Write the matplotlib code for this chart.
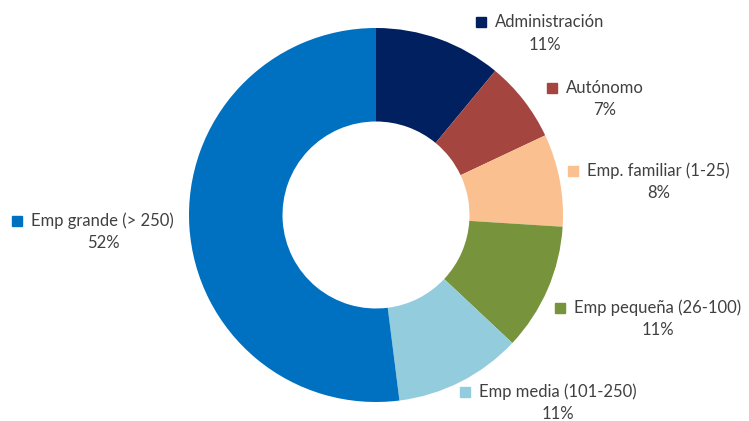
import matplotlib
matplotlib.use("Agg")
import matplotlib.pyplot as plt

categories = ["Administración", "Autónomo", "Emp. familiar (1-25)",
              "Emp pequeña (26-100)", "Emp media (101-250)", "Emp grande (> 250)"]
values = [11, 7, 8, 11, 11, 52]
colors = ["#002060", "#A5453F", "#FAC090", "#77933C", "#93CDDD", "#0070C0"]

# label layout (pixel positions of the legend square and the percent text)
W, H = 749, 421
CX, CY, R = 376, 215, 187
sq_pos = [(481, 22), (552, 88), (573, 171), (560, 308), (465, 392), (17, 221)]
pct_pos = [(545, 45), (605, 110), (659, 193), (658, 330), (558, 414), (103, 243)]

def px2d(px, py):
    return (px - CX) / R, (CY - py) / R

fig = plt.figure(figsize=(W / 100, H / 100), dpi=100)
ax = fig.add_axes([0, 0, 1, 1])
ax.pie(values, colors=colors, startangle=90, counterclock=False, radius=1,
       wedgeprops=dict(width=0.5, linewidth=0))
ax.set_xlim(-CX / R, (W - CX) / R)
ax.set_ylim(-(H - CY) / R, CY / R)
ax.set_aspect("equal")
ax.axis("off")

tc = "#404040"
font = "Lato"
for cat, v, c, (sx, sy), (ppx, ppy) in zip(categories, values, colors, sq_pos, pct_pos):
    x, y = px2d(sx, sy)
    ax.plot([x], [y], marker="s", markersize=7, color=c, linestyle="none")
    tx, ty = px2d(sx + 14, sy)
    ax.text(tx, ty, cat, ha="left", va="center", fontsize=12, color=tc, family=font)
    qx, qy = px2d(ppx, ppy)
    ax.text(qx, qy, f"{v}%", ha="center", va="center", fontsize=12, color=tc, family=font)

fig.savefig("out.png", dpi=100)
